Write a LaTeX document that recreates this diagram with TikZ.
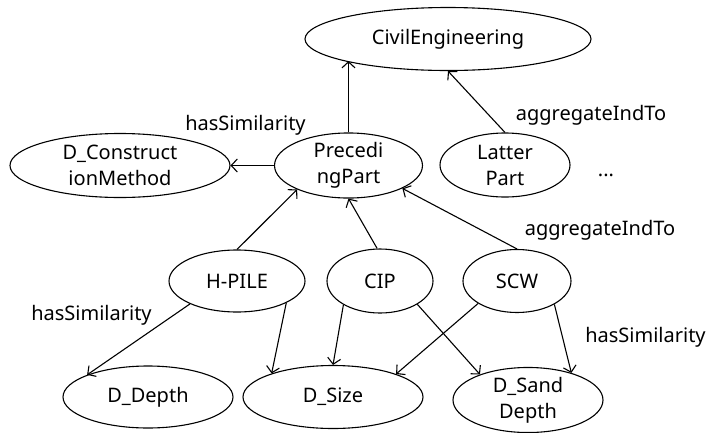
\documentclass[tikz,border=0pt]{standalone}
\usepackage{fontspec}
\setmainfont{Noto Sans}
\usetikzlibrary{shapes.geometric,arrows.meta}
\begin{document}
\begin{tikzpicture}[x=1pt,y=-1pt,
  cls/.style={draw, ellipse, line width=1.1pt, inner sep=0pt, align=center,
    font=\fontsize{20}{26}\selectfont},
  rel/.style={-{Straight Barb[length=6pt,width=13pt]}, line width=1.1pt},
  lbl/.style={anchor=base, inner sep=0pt, font=\fontsize{20}{24}\selectfont}]
\useasboundingbox (0,0) rectangle (713,432);

% concept nodes
\node[cls, minimum width=286pt, minimum height=63pt] (civ)   at (448,39)  {CivilEngineering};
\node[cls, minimum width=220pt, minimum height=64pt] (dcm)   at (120,165.5) {D\_Construct\\ionMethod};
\node[cls, minimum width=148pt, minimum height=64pt] (pre)   at (348.5,165.5) {Precedi\\ngPart};
\node[cls, minimum width=130pt, minimum height=64pt] (lat)   at (505,165) {Latter\\Part};
\node[cls, minimum width=136pt, minimum height=62pt] (hpile) at (237,281) {H-PILE};
\node[cls, minimum width=106pt, minimum height=64pt] (cip)   at (380,281) {CIP};
\node[cls, minimum width=108pt, minimum height=63pt] (scw)   at (517,281) {SCW};
\node[cls, minimum width=170pt, minimum height=62pt] (ddep)  at (148,397) {D\_Depth};
\node[cls, minimum width=180pt, minimum height=63pt] (dsize) at (333,397) {D\_Size};
\node[cls, minimum width=150pt, minimum height=60pt] (dsand) at (528,400) {D\_Sand\\Depth};
\node[lbl] (more) at (606,176) {...};

% relations
\draw[rel] (pre.north) -- (civ.192 -| pre.north);
\draw[rel] (lat.north) -- (civ.south);
\draw[rel] (pre.west) -- (dcm.east);
\draw[rel] (hpile.north) -- (pre.205);
\draw[rel] (cip.95) -- (pre.south);
\draw[rel] (scw.north) -- (pre.337);
\draw[rel] (hpile.206) -- (ddep.160);
\draw[rel] (hpile.336) -- (dsize.159);
\draw[rel] (cip.213) -- (dsize.north);
\draw[rel] (cip.328) -- (dsand.152);
\draw[rel] (scw.210) -- (dsize.20);
\draw[rel] (scw.328) -- (dsand.32);

% relation labels
\node[lbl] (l1) at (245.5,130) {hasSimilarity};
\node[lbl] (l2) at (591,120) {aggregateIndTo};
\node[lbl] (l3) at (600,235) {aggregateIndTo};
\node[lbl] (l4) at (91.5,320) {hasSimilarity};
\node[lbl] (l5) at (645.5,342) {hasSimilarity};
\end{tikzpicture}
\end{document}
